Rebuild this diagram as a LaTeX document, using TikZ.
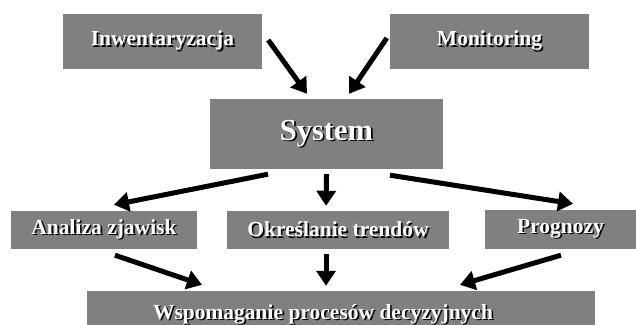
\documentclass[tikz,border=0pt]{standalone}
\usepackage{fontspec}
\setmainfont{Liberation Serif}
\usepackage{xcolor}
\usepackage{tikz}
\usetikzlibrary{arrows.meta,positioning}

\newcommand{\shadowed}[1]{\makebox[0pt][l]{\kern1.6pt\raisebox{-1.6pt}{\textcolor{black}{#1}}}\textcolor{white}{#1}}

\begin{document}
\begin{tikzpicture}[
    x=1pt, y=1pt,
    box/.style={rectangle, fill=gray, inner sep=0pt, text centered, font=\fontsize{21.5}{25}\selectfont\bfseries},
    lbl/.style={inner sep=0pt, font=\fontsize{21.5}{25}\selectfont\bfseries},
    arr/.style={-{Triangle[length=15pt,width=19pt]}, line width=5pt}
]
    \fill[white] (0,0) rectangle (636,324);
    \useasboundingbox (0,0) rectangle (636,324);

    \node[box, minimum width=199, minimum height=55] (inw) at (162.5,282.5) {\shadowed{Inwentaryzacja}};
    \node[box, minimum width=199, minimum height=55] (mon) at (489.5,282.5) {\shadowed{Monitoring}};
    \node[box, minimum width=233, minimum height=70, font=\fontsize{30.5}{35}\selectfont\bfseries] (sys) at (326.5,190) {\shadowed{System}};
    \node[box, minimum width=186, minimum height=38] (ana) at (104,94) {\shadowed{Analiza zjawisk}};
    \node[box, minimum width=222, minimum height=38] (okr) at (338,94) {\shadowed{Określanie trendów}};
    \node[box, minimum width=151, minimum height=39] (pro) at (560.5,94.5) {\shadowed{Prognozy}};
    \node[box, minimum width=508, minimum height=39] (wsp) at (341,13.5) {};
    \node[lbl, anchor=base] (wsptxt) at (323,5) {\shadowed{Wspomaganie procesów decyzyjnych}};

    % inputs into the system
    \draw[arr] ([shift={(6,1.5)}]inw.east) -- ([shift={(-19.5,5)}]sys.north);
    \draw[arr] ([shift={(-3,3.5)}]mon.west) -- ([shift={(22.5,5)}]sys.north);

    % system outputs
    \draw[arr] ([shift={(-58.5,-5)}]sys.south) -- ([shift={(10,6)}]ana.north);
    \draw[arr] ([shift={(0,-5)}]sys.south) -- ([shift={(-12,5)}]okr.north);
    \draw[arr] ([shift={(63.5,-6)}]sys.south) -- ([shift={(12.5,6)}]pro.north);

    % towards decisions
    \draw[arr] ([shift={(11,-6)}]ana.south) -- ([shift={(-139,6)}]wsp.north);
    \draw[arr] ([shift={(-12,-5)}]okr.south) -- ([shift={(-15,5)}]wsp.north);
    \draw[arr] ([shift={(0.5,-6)}]pro.south) -- ([shift={(119,6)}]wsp.north);
\end{tikzpicture}
\end{document}
